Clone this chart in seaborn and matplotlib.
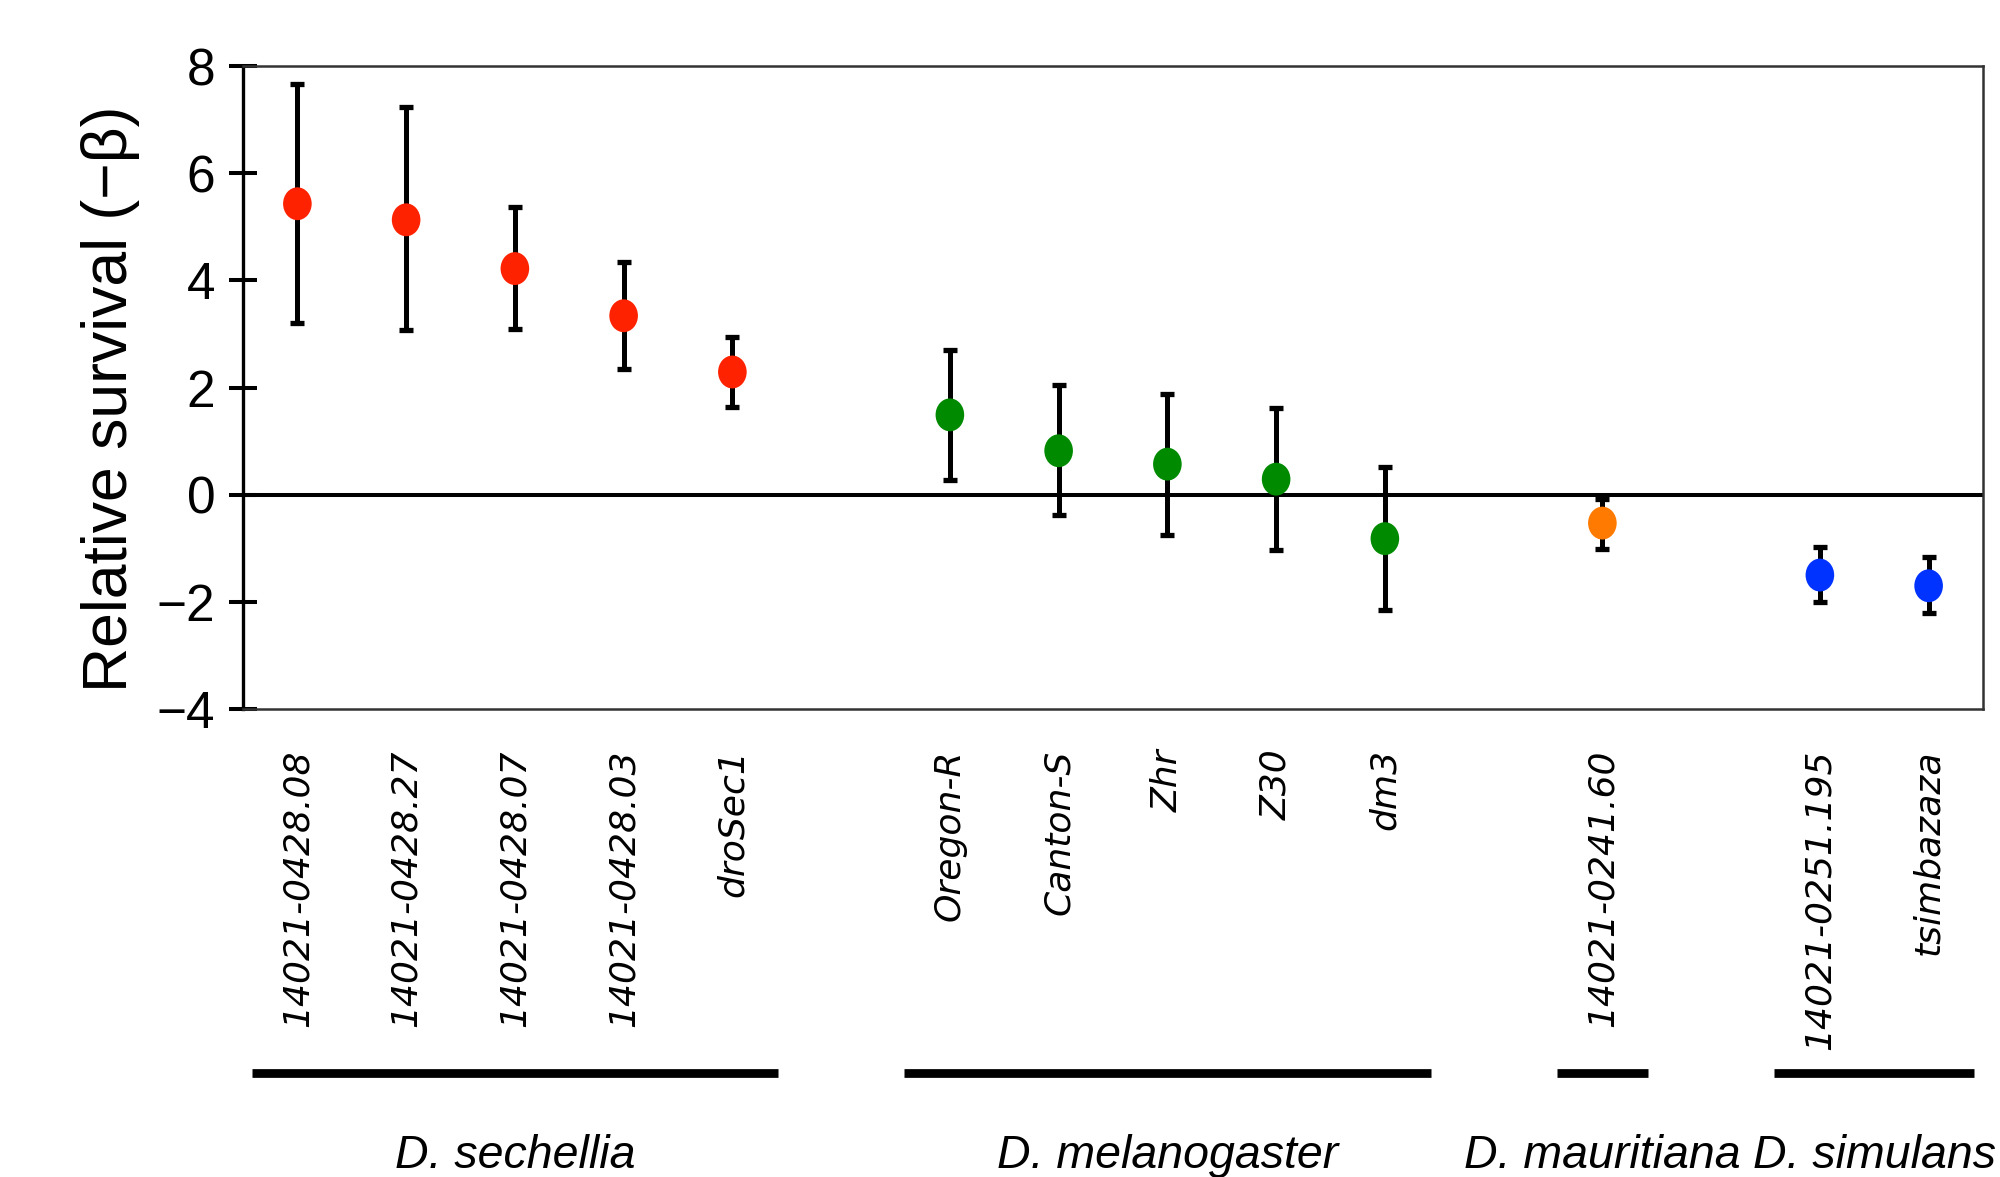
import matplotlib
matplotlib.use("Agg")
import matplotlib.pyplot as plt
import matplotlib.transforms as mtransforms
from matplotlib.markers import MarkerStyle
import seaborn as sns
import pandas as pd
import numpy as np

# ---- data ----
strains = ["14021-0428.08", "14021-0428.27", "14021-0428.07", "14021-0428.03", "droSec1",
           "Oregon-R", "Canton-S", "Zhr", "Z30", "dm3",
           "14021-0241.60",
           "14021-0251.195", "tsimbazaza"]
species = ["D. sechellia"] * 5 + ["D. melanogaster"] * 5 + ["D. mauritiana"] + ["D. simulans"] * 2
survival = [5.43, 5.13, 4.22, 3.34, 2.29,
            1.49, 0.82, 0.57, 0.29, -0.82,
            -0.53,
            -1.50, -1.70]
err_low = [3.20, 3.07, 3.10, 2.34, 1.64,
           0.27, -0.38, -0.76, -1.03, -2.15,
           -1.01,
           -2.00, -2.20]
err_high = [7.67, 7.23, 5.36, 4.35, 2.94,
            2.70, 2.04, 1.88, 1.62, 0.51,
            -0.08,
            -0.98, -1.16]
species_order = ["D. sechellia", "D. melanogaster", "D. mauritiana", "D. simulans"]
species_colors = {"D. sechellia": "#FF2200", "D. melanogaster": "#008A00",
                  "D. mauritiana": "#FF7A00", "D. simulans": "#0033FF"}
yticks = [-4, -2, 0, 2, 4, 6, 8]
ylabel = "Relative survival (\u2212\u03b2)"

# positions: one slot per strain, one empty slot between species groups
pos = []
p = 0
prev = species[0]
for sp in species:
    if sp != prev:
        p += 1
        prev = sp
    pos.append(p)
    p += 1

df = pd.DataFrame({"strain": strains, "species": species, "x": pos,
                   "y": survival, "lo": err_low, "hi": err_high})

# ---- style ----
sns.set_style("white")
plt.rcParams["font.family"] = ["Liberation Sans", "DejaVu Sans"]
plt.rcParams["text.color"] = "black"
plt.rcParams["axes.labelcolor"] = "black"
plt.rcParams["xtick.color"] = "black"
plt.rcParams["ytick.color"] = "black"

fig = plt.figure(figsize=(20, 11.77), dpi=100)
ax = fig.add_axes([0.1215, 0.3976, 0.87, 0.5463])

ax.axhline(0, color="black", lw=2.9, zorder=1)

ax.errorbar(df["x"], df["y"],
            yerr=[df["y"] - df["lo"], df["hi"] - df["y"]],
            fmt="none", ecolor="black", elinewidth=3.6, capsize=5.0, capthick=3.8, zorder=2)

oval = MarkerStyle("o", transform=mtransforms.Affine2D().scale(0.87, 1.0))
sns.scatterplot(data=df, x="x", y="y", hue="species", hue_order=species_order,
                palette=species_colors, marker=oval, s=560, linewidth=0,
                legend=False, ax=ax, zorder=3)

ax.set_xlim(-0.5, 15.5)
ax.set_ylim(-4, 8)
ax.set_yticks(yticks)
ax.set_yticklabels([str(t).replace("-", "\u2212") for t in yticks])
ax.set_xticks(df["x"])
ax.set_xticklabels(df["strain"], rotation=90, fontstyle="italic",
                   fontfamily="DejaVu Sans", fontsize=26, ha="center", va="top")
ax.tick_params(axis="x", length=0, pad=29)
ax.tick_params(axis="y", direction="inout", length=20, width=2.9, pad=10,
               labelsize=37, color="black", left=True)
ax.set_xlabel("")
ax.set_ylabel(ylabel, fontsize=45)
ax.yaxis.set_label_coords(-0.059, 0.482)

for side in ["top", "right", "bottom"]:
    ax.spines[side].set_color("#333333")
    ax.spines[side].set_linewidth(1.8)
ax.spines["left"].set_color("black")
ax.spines["left"].set_linewidth(2.4)

# species group bars and labels below the axis
trans = mtransforms.blended_transform_factory(ax.transData, ax.transAxes)
for sp in species_order:
    xs = df.loc[df["species"] == sp, "x"]
    ax.plot([xs.min() - 0.42, xs.max() + 0.42], [-0.566, -0.566], transform=trans,
            color="black", lw=6.3, solid_capstyle="butt", clip_on=False)
    ax.text(xs.mean(), -0.714, sp, transform=trans, ha="center", va="baseline",
            fontsize=33.5, fontstyle="italic", clip_on=False)

fig.savefig("out.png", dpi=100)
